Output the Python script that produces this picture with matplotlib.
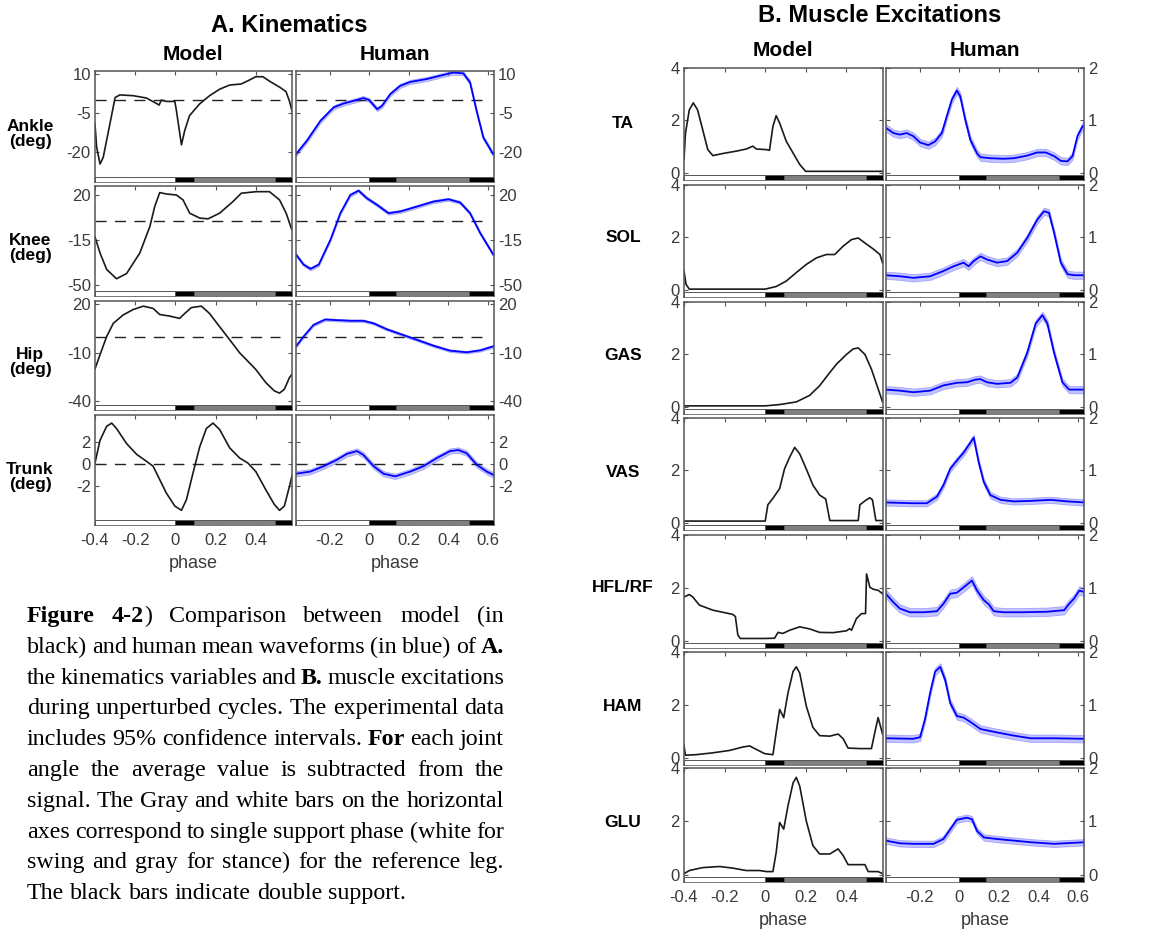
import numpy as np
import matplotlib
matplotlib.use('Agg')
import matplotlib.pyplot as plt
from matplotlib.patches import Rectangle
import matplotlib.transforms as mtransforms

plt.rcParams['font.family'] = 'Liberation Sans'
plt.rcParams['axes.unicode_minus'] = False

W, H = 1150, 930

# ---------------- A. kinematics (phase, deg) ----------------
ankle_mod_x = [-0.4, -0.392, -0.375, -0.359, -0.326, -0.30, -0.276, -0.21, -0.144, -0.094, -0.081, -0.07,
               -0.045, -0.003, 0.005, 0.03, 0.046, 0.07, 0.12, 0.17, 0.22, 0.27, 0.327, 0.36, 0.40, 0.435,
               0.47, 0.52, 0.55, 0.567, 0.58]
ankle_mod_y = [-9.2, -18, -24.6, -22, -9.2, 1, 2, 1.7, 0.8, -1.3, -1.9, 0, -0.5, -0.5, -4, -17.2, -11.8,
               -6, -1.5, 1.7, 4.2, 5.8, 6.2, 7.4, 9.0, 9.0, 7.2, 4.9, 3.3, -0.3, -4.1]
ankle_hum_x = [-0.37, -0.315, -0.247, -0.18, -0.13, -0.08, -0.03, 0.0, 0.04, 0.064, 0.106, 0.156, 0.207,
               0.29, 0.358, 0.425, 0.475, 0.509, 0.542, 0.576, 0.626]
ankle_hum_y = [-20.8, -15.6, -8, -2.8, -1.3, -0.3, 0.8, 0, -3.5, -2.2, 2.3, 5.5, 7, 8.1, 9.4, 10.6, 10.3,
               6.8, -4.1, -14.4, -20.8]

knee_mod_x = [-0.4, -0.375, -0.342, -0.293, -0.243, -0.177, -0.127, -0.103, -0.078, -0.045, 0.005, 0.038,
              0.071, 0.121, 0.162, 0.22, 0.286, 0.328, 0.402, 0.468, 0.518, 0.551, 0.579]
knee_mod_y = [-12.6, -25, -37.8, -45, -41, -25, -4.4, 11, 21.9, 20.8, 20, 16.2, 5.9, 2.1, 1.5, 5.9, 14.9,
              21.4, 22.6, 22.6, 16.2, 5.9, -7]
knee_hum_x = [-0.37, -0.332, -0.297, -0.255, -0.196, -0.146, -0.096, -0.054, -0.012, 0.039, 0.097, 0.156,
              0.24, 0.324, 0.40, 0.459, 0.509, 0.56, 0.626]
knee_hum_y = [-26.2, -34, -37.3, -34, -14.7, 5.9, 20, 23.4, 17.5, 12.4, 5.9, 7.2, 11, 14.9, 16.7, 14.2,
              5.9, -9.5, -26.2]

hip_mod_x = [-0.4, -0.375, -0.342, -0.309, -0.26, -0.21, -0.16, -0.111, -0.078, -0.028, 0.021, 0.046,
             0.079, 0.129, 0.17, 0.22, 0.27, 0.32, 0.352, 0.40, 0.45, 0.492, 0.518, 0.542, 0.567, 0.58]
hip_mod_y = [-20.1, -11.3, 0, 8.2, 13.4, 16.8, 18.9, 17.5, 13.7, 12.7, 11.3, 14.3, 18, 18.9, 14.3, 6.1,
             -2, -10.2, -14.3, -20.5, -28.7, -33.8, -35.2, -32.8, -25.6, -23.5]
hip_hum_x = [-0.37, -0.332, -0.282, -0.223, -0.165, -0.096, -0.03, 0.022, 0.089, 0.156, 0.24, 0.324,
             0.408, 0.492, 0.56, 0.626]
hip_hum_y = [-6.1, 0, 7.2, 10.6, 10.2, 9.8, 9.8, 8.2, 4.5, 1.6, -2, -5.7, -8.8, -9.8, -8.6, -6.1]

trunk_mod_x = [-0.4, -0.375, -0.342, -0.317, -0.293, -0.243, -0.193, -0.144, -0.111, -0.078, -0.045,
               -0.003, 0.03, 0.055, 0.088, 0.121, 0.154, 0.187, 0.22, 0.27, 0.32, 0.36, 0.40, 0.45, 0.492,
               0.518, 0.542, 0.567, 0.58]
trunk_mod_y = [0.1, 2.2, 3.5, 3.8, 3.3, 1.9, 0.9, 0.25, -0.2, -1.45, -2.7, -3.9, -4.3, -3.3, -0.8, 1.6,
               3.3, 3.8, 3.2, 1.5, 0.55, 0.1, -0.7, -2.4, -3.75, -4.3, -3.9, -2.1, -1.1]
trunk_hum_x = [-0.37, -0.297, -0.23, -0.163, -0.112, -0.062, -0.03, 0.022, 0.072, 0.131, 0.207, 0.274,
               0.341, 0.408, 0.45, 0.492, 0.542, 0.593, 0.626]
trunk_hum_y = [-0.9, -0.7, -0.2, 0.4, 0.95, 1.2, 0.85, -0.2, -0.9, -1.15, -0.7, -0.2, 0.55, 1.2, 1.3, 1.0,
               -0.05, -0.7, -1.0]

kin_names = ['Ankle\n(deg)', 'Knee\n(deg)', 'Hip\n(deg)', 'Trunk\n(deg)']
kin_ylims = [(-31.5, 11.2), (-58.4, 27), (-45.7, 22.1), (-5.66, 4.55)]
kin_yticks = [[-20, -5, 10], [-50, -15, 20], [-40, -10, 20], [-2, 0, 2]]
kin_ci = [0.8, 1.2, 0.8, 0.25]

# ---------------- B. muscle excitations ----------------
ta_mod_x = [-0.4, -0.393, -0.374, -0.354, -0.333, -0.308, -0.283, -0.258, -0.209, -0.143, -0.094, -0.061,
            -0.044, 0.005, 0.021, 0.038, 0.054, 0.071, 0.104, 0.137, 0.17, 0.199, 0.578]
ta_mod_y = [0.5, 1.5, 2.4, 2.67, 2.4, 1.65, 0.89, 0.66, 0.74, 0.83, 0.91, 1.02, 0.91, 0.89, 0.86, 1.78,
            2.18, 1.9, 1.2, 0.76, 0.32, 0.06, 0.06]
ta_hum_x = [-0.371, -0.333, -0.3, -0.266, -0.232, -0.198, -0.156, -0.122, -0.088, -0.063, -0.037, -0.012,
            0.005, 0.03, 0.056, 0.09, 0.107, 0.157, 0.225, 0.276, 0.343, 0.394, 0.437, 0.479, 0.513, 0.547,
            0.572, 0.597, 0.623, 0.635]
ta_hum_y = [0.86, 0.76, 0.73, 0.76, 0.70, 0.58, 0.53, 0.60, 0.76, 1.08, 1.40, 1.57, 1.46, 1.02, 0.63,
            0.37, 0.30, 0.28, 0.27, 0.28, 0.33, 0.39, 0.39, 0.32, 0.23, 0.22, 0.32, 0.70, 0.89, 0.89]

sol_mod_x = [-0.4, -0.39, -0.374, 0.0, 0.054, 0.104, 0.153, 0.202, 0.252, 0.301, 0.342, 0.384, 0.425,
             0.458, 0.491, 0.532, 0.565, 0.578]
sol_mod_y = [0.72, 0.21, 0.03, 0.03, 0.13, 0.34, 0.66, 0.97, 1.22, 1.35, 1.35, 1.67, 1.92, 1.98, 1.79,
             1.56, 1.35, 1.03]
sol_hum_x = [-0.371, -0.3, -0.232, -0.147, -0.08, -0.029, 0.022, 0.047, 0.073, 0.107, 0.14, 0.191, 0.242,
             0.293, 0.343, 0.394, 0.428, 0.453, 0.479, 0.513, 0.547, 0.58, 0.635]
sol_hum_y = [0.28, 0.26, 0.23, 0.26, 0.36, 0.45, 0.52, 0.45, 0.55, 0.64, 0.58, 0.52, 0.55, 0.71, 0.99,
             1.34, 1.50, 1.47, 1.09, 0.52, 0.30, 0.28, 0.28]

gas_mod_x = [-0.4, 0.0, 0.071, 0.153, 0.219, 0.268, 0.318, 0.351, 0.4, 0.433, 0.458, 0.491, 0.523, 0.556,
             0.578]
gas_mod_y = [0.04, 0.04, 0.09, 0.19, 0.44, 0.81, 1.31, 1.63, 2.0, 2.21, 2.25, 2.0, 1.44, 0.69, 0.19]
gas_hum_x = [-0.371, -0.3, -0.232, -0.147, -0.08, -0.012, 0.039, 0.081, 0.107, 0.14, 0.191, 0.259, 0.293,
             0.343, 0.386, 0.42, 0.445, 0.479, 0.521, 0.555, 0.635]
gas_hum_y = [0.33, 0.31, 0.28, 0.31, 0.41, 0.46, 0.47, 0.52, 0.53, 0.47, 0.44, 0.46, 0.56, 1.03, 1.59,
             1.75, 1.59, 1.03, 0.47, 0.33, 0.33]

vas_mod_x = [-0.4, 0.0, 0.013, 0.038, 0.071, 0.095, 0.12, 0.145, 0.17, 0.202, 0.235, 0.268, 0.298, 0.318,
             0.458, 0.466, 0.491, 0.515, 0.528, 0.545, 0.578]
vas_mod_y = [0.07, 0.07, 0.69, 0.94, 1.31, 2.06, 2.5, 2.88, 2.63, 2.06, 1.44, 1.06, 0.91, 0.09, 0.09,
             0.69, 0.84, 0.96, 0.88, 0.09, 0.09]
vas_hum_x = [-0.371, -0.232, -0.164, -0.113, -0.08, -0.046, -0.012, 0.022, 0.056, 0.073, 0.098, 0.124,
             0.157, 0.208, 0.276, 0.36, 0.462, 0.547, 0.635]
vas_hum_y = [0.39, 0.375, 0.375, 0.5, 0.72, 1.03, 1.19, 1.34, 1.53, 1.625, 1.16, 0.78, 0.53, 0.44, 0.41,
             0.42, 0.44, 0.41, 0.39]

hfl_mod_x = [-0.4, -0.374, -0.357, -0.324, -0.258, -0.209, -0.16, -0.147, -0.135, -0.123, 0.0, 0.046,
             0.063, 0.087, 0.12, 0.17, 0.219, 0.268, 0.334, 0.4, 0.416, 0.425, 0.449, 0.474, 0.494, 0.499,
             0.515, 0.532, 0.556, 0.578]
hfl_mod_y = [1.66, 1.75, 1.66, 1.35, 1.16, 1.08, 1.0, 0.92, 0.23, 0.09, 0.09, 0.1, 0.32, 0.28, 0.4, 0.53,
             0.45, 0.32, 0.31, 0.38, 0.46, 0.4, 0.84, 1.03, 1.03, 2.53, 2.03, 1.95, 1.91, 1.78]
hfl_hum_x = [-0.371, -0.333, -0.3, -0.249, -0.181, -0.113, -0.08, -0.046, -0.012, 0.022, 0.064, 0.09,
             0.124, 0.149, 0.174, 0.225, 0.31, 0.445, 0.53, 0.555, 0.58, 0.606, 0.635]
hfl_hum_y = [0.89, 0.73, 0.61, 0.54, 0.54, 0.56, 0.70, 0.89, 0.91, 1.01, 1.14, 0.95, 0.77, 0.69, 0.56,
             0.54, 0.54, 0.55, 0.58, 0.70, 0.80, 0.95, 0.92]

ham_mod_x = [-0.4, -0.393, -0.341, -0.258, -0.176, -0.11, -0.077, -0.044, -0.003, 0.038, 0.054, 0.071,
             0.091, 0.112, 0.137, 0.153, 0.17, 0.202, 0.235, 0.268, 0.318, 0.359, 0.384, 0.408, 0.466,
             0.523, 0.54, 0.556, 0.578]
ham_mod_y = [0.47, 0.1, 0.12, 0.19, 0.28, 0.41, 0.45, 0.32, 0.16, 0.12, 0.97, 1.83, 1.52, 2.45, 3.26, 3.44,
             3.2, 1.96, 1.15, 0.84, 0.82, 0.9, 0.72, 0.37, 0.35, 0.35, 0.97, 1.52, 0.9]
ham_hum_x = [-0.371, -0.232, -0.198, -0.173, -0.147, -0.122, -0.096, -0.071, -0.046, -0.012, 0.022, 0.056,
             0.107, 0.191, 0.276, 0.36, 0.479, 0.635]
ham_hum_y = [0.37, 0.36, 0.39, 0.73, 1.23, 1.63, 1.72, 1.47, 1.04, 0.79, 0.76, 0.68, 0.545, 0.48, 0.42,
             0.37, 0.37, 0.36]

glu_mod_x = [-0.4, -0.374, -0.308, -0.225, -0.16, -0.094, -0.028, 0.005, 0.038, 0.054, 0.071, 0.091, 0.112,
             0.137, 0.153, 0.17, 0.202, 0.235, 0.268, 0.318, 0.359, 0.384, 0.408, 0.491, 0.507, 0.556, 0.578]
glu_mod_y = [0.04, 0.16, 0.27, 0.31, 0.25, 0.16, 0.16, 0.12, 0.12, 0.84, 1.96, 1.71, 2.58, 3.44, 3.65, 3.32,
             2.02, 1.09, 0.78, 0.78, 0.97, 0.72, 0.38, 0.38, 0.12, 0.12, 0.04]
glu_hum_x = [-0.371, -0.3, -0.232, -0.13, -0.08, -0.046, -0.012, 0.039, 0.064, 0.09, 0.124, 0.191, 0.276,
             0.36, 0.479, 0.635]
glu_hum_y = [0.64, 0.59, 0.58, 0.58, 0.67, 0.85, 1.03, 1.07, 1.04, 0.82, 0.70, 0.67, 0.64, 0.61, 0.58, 0.61]

mus_names = ['TA', 'SOL', 'GAS', 'VAS', 'HFL/RF', 'HAM', 'GLU']
mus_ci = [0.07, 0.07, 0.07, 0.06, 0.08, 0.07, 0.06]

# gait events: start/end of double support, end of single support
mod_events = [0.0, 0.094, 0.497]
hum_events = [0.0, 0.136, 0.503]

mod_xlim = (-0.4, 0.58)
hum_xlim = (-0.37, 0.63)
mod_xticks = [-0.4, -0.2, 0, 0.2, 0.4]
hum_xticks = [-0.2, 0, 0.2, 0.4, 0.6]

caption = [
    "**Figure** **4-2**) Comparison between model (in",
    "black) and human mean waveforms (in blue) of **A.**",
    "the kinematics variables and **B.** muscle excitations",
    "during unperturbed cycles.  The experimental data",
    "includes 95% confidence intervals. **For** each joint",
    "angle the average value is subtracted from the",
    "signal. The Gray and white bars on the horizontal",
    "axes correspond to single support phase (white for",
    "swing and gray for stance) for the reference leg.",
    "The black bars indicate double support.",
]

fig = plt.figure(figsize=(W / 100, H / 100), dpi=100)


def px_axes(left, top, right, bottom):
    return fig.add_axes([left / W, 1 - bottom / H, (right - left) / W, (bottom - top) / H])


def style(ax, side):
    ax.tick_params(direction='in', top=True, bottom=True, left=True, right=True, length=3,
                   width=0.8, color='#555555', labelsize=12, labelcolor='#3a3a3a', pad=3)
    ax.tick_params(axis='x', pad=6)
    ax.tick_params(labelbottom=False, labelleft=(side == 'left'), labelright=(side == 'right'))
    for s in ax.spines.values():
        s.set_color('#555555')
        s.set_linewidth(1.1)


def phase_bar(ax, ev, xlim):
    tr = mtransforms.blended_transform_factory(ax.transData, ax.transAxes)
    segs = [(xlim[0], ev[0], 'white'), (ev[0], ev[1], 'black'),
            (ev[1], ev[2], '#7f7f7f'), (ev[2], xlim[1], 'black')]
    for a, b, c in segs:
        ax.add_patch(Rectangle((a, 0), b - a, 0.045, transform=tr, facecolor=c,
                               edgecolor='#555555', lw=0.7, zorder=3))


def human_line(ax, x, y, ci):
    x = np.array(x)
    y = np.array(y)
    ax.fill_between(x, y - ci, y + ci, facecolor='#7878ff', alpha=0.45, edgecolor='#6060ff', lw=0.6)
    ax.plot(x, y, color='blue', lw=1.3)


# ---------- panel A ----------
A_cols = [(95, 292), (296, 494)]
A_rows = [(71, 182), (186, 296), (301, 410), (415, 525)]
A_label_y = [134, 248, 362, 477]
kin_mod = [(ankle_mod_x, ankle_mod_y), (knee_mod_x, knee_mod_y), (hip_mod_x, hip_mod_y),
           (trunk_mod_x, trunk_mod_y)]
kin_hum = [(ankle_hum_x, ankle_hum_y), (knee_hum_x, knee_hum_y), (hip_hum_x, hip_hum_y),
           (trunk_hum_x, trunk_hum_y)]

for i, (top, bot) in enumerate(A_rows):
    axm = px_axes(A_cols[0][0], top, A_cols[0][1], bot)
    axh = px_axes(A_cols[1][0], top, A_cols[1][1], bot)
    style(axm, 'left')
    style(axh, 'right')
    for ax, xl, xt, ev in [(axm, mod_xlim, mod_xticks, mod_events), (axh, hum_xlim, hum_xticks, hum_events)]:
        ax.set_xlim(xl)
        ax.set_ylim(kin_ylims[i])
        ax.set_xticks(xt)
        ax.set_yticks(kin_yticks[i])
        ax.axhline(0, xmin=0, xmax=0.94, color='#222222', lw=1.0, dashes=(8, 6))
        phase_bar(ax, ev, xl)
        if i == 3:
            ax.tick_params(labelbottom=True)
            ax.set_xticklabels([('%g' % v) for v in xt])
            ax.set_xlabel('phase', fontsize=13, color='#3a3a3a', labelpad=5)
    axm.plot(kin_mod[i][0], kin_mod[i][1], color='#1a1a1a', lw=1.2)
    human_line(axh, kin_hum[i][0], kin_hum[i][1], kin_ci[i])
    fig.text(30 / W, 1 - A_label_y[i] / H, kin_names[i], ha='center', va='center', fontsize=12.5,
             fontweight='bold', linespacing=0.95)

fig.text(289 / W, 1 - 25 / H, 'A. Kinematics', ha='center', va='center', fontsize=17, fontweight='bold')
fig.text(193 / W, 1 - 55 / H, 'Model', ha='center', va='center', fontsize=15, fontweight='bold')
fig.text(395 / W, 1 - 55 / H, 'Human', ha='center', va='center', fontsize=15, fontweight='bold')

# ---------- panel B ----------
B_cols = [(684, 883), (886, 1084)]
B_rows = [(68, 180), (185, 297), (302, 414), (418, 530), (535, 648), (652, 765), (768, 882)]
B_label_y = [123, 238, 355, 472, 588, 706, 822]
mus_mod = [(ta_mod_x, ta_mod_y), (sol_mod_x, sol_mod_y), (gas_mod_x, gas_mod_y), (vas_mod_x, vas_mod_y),
           (hfl_mod_x, hfl_mod_y), (ham_mod_x, ham_mod_y), (glu_mod_x, glu_mod_y)]
mus_hum = [(ta_hum_x, ta_hum_y), (sol_hum_x, sol_hum_y), (gas_hum_x, gas_hum_y), (vas_hum_x, vas_hum_y),
           (hfl_hum_x, hfl_hum_y), (ham_hum_x, ham_hum_y), (glu_hum_x, glu_hum_y)]

for i, (top, bot) in enumerate(B_rows):
    axm = px_axes(B_cols[0][0], top, B_cols[0][1], bot)
    axh = px_axes(B_cols[1][0], top, B_cols[1][1], bot)
    style(axm, 'left')
    style(axh, 'right')
    axm.set_ylim(-0.27, 4)
    axm.set_yticks([0, 2, 4])
    axh.set_ylim(-0.135, 2)
    axh.set_yticks([0, 1, 2])
    for ax, xl, xt, ev in [(axm, mod_xlim, mod_xticks, mod_events), (axh, hum_xlim, hum_xticks, hum_events)]:
        ax.set_xlim(xl)
        ax.set_xticks(xt)
        phase_bar(ax, ev, xl)
        if i == 6:
            ax.tick_params(labelbottom=True)
            ax.set_xticklabels([('%g' % v) for v in xt])
            ax.set_xlabel('phase', fontsize=13, color='#3a3a3a', labelpad=5)
    axm.plot(mus_mod[i][0], mus_mod[i][1], color='#1a1a1a', lw=1.2)
    human_line(axh, mus_hum[i][0], mus_hum[i][1], mus_ci[i])
    fig.text(623 / W, 1 - B_label_y[i] / H, mus_names[i], ha='center', va='center', fontsize=12.5,
             fontweight='bold')

fig.text(880 / W, 1 - 15 / H, 'B. Muscle Excitations', ha='center', va='center', fontsize=17,
         fontweight='bold')
fig.text(783 / W, 1 - 50 / H, 'Model', ha='center', va='center', fontsize=15, fontweight='bold')
fig.text(985 / W, 1 - 50 / H, 'Human', ha='center', va='center', fontsize=15, fontweight='bold')

# ---------- justified caption ----------
renderer = fig.canvas.get_renderer()
x0, x1 = 27, 504
base0, step = 622, 30.8
cap_kw = dict(family='Liberation Serif', fontsize=17.3, va='baseline', ha='left')


def word_parts(word):
    parts = word.split('**')
    return [(p, 'bold' if k % 2 else 'normal') for k, p in enumerate(parts) if p]


def measure(txt, weight):
    t = fig.text(0, 0, txt, fontweight=weight, **cap_kw)
    w = t.get_window_extent(renderer=renderer).width
    t.remove()
    return w


space_w = measure('a b', 'normal') - measure('ab', 'normal')
for li, line in enumerate(caption):
    words = [word_parts(w) for w in line.split(' ') if w]
    widths = [[measure(p, wt) for p, wt in parts] for parts in words]
    total = sum(sum(w) for w in widths)
    last = li == len(caption) - 1
    gap = space_w if last else (x1 - x0 - total) / (len(words) - 1)
    x = x0
    y = 1 - (base0 + li * step) / H
    for parts, ws in zip(words, widths):
        for (p, wt), w in zip(parts, ws):
            fig.text(x / W, y, p, fontweight=wt, **cap_kw)
            x += w
        x += gap

fig.savefig('out.png', dpi=100)
